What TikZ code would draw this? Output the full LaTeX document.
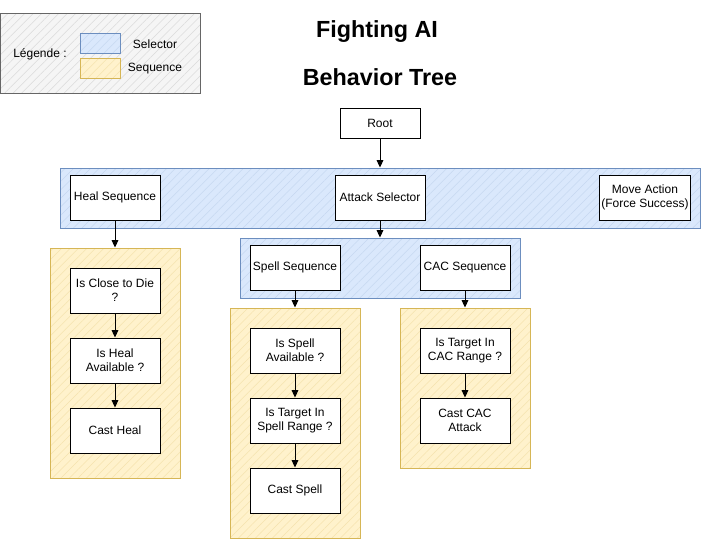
\documentclass[tikz,border=0pt]{standalone}
\usepackage{fontspec}
\setmainfont{Liberation Sans}
\usetikzlibrary{patterns.meta,arrows.meta}
\definecolor{selfill}{HTML}{DAE8FC}
\definecolor{seldraw}{HTML}{6C8EBF}
\definecolor{seqfill}{HTML}{FFF2CC}
\definecolor{seqdraw}{HTML}{D6B656}
\definecolor{legfill}{HTML}{F5F5F5}
\definecolor{legdraw}{HTML}{666666}
\begin{document}
\begin{tikzpicture}[x=0.75pt,y=-0.75pt,
  every node/.style={font=\fontsize{9}{10.5}\selectfont},
  hatchbox/.style n args={3}{draw=#2, line width=0.75pt, preaction={fill=#1},
     pattern={Lines[angle=45,distance=4.5pt,line width=0.4pt]}, pattern color=#3,
     inner sep=0pt},
  container/.style n args={5}{hatchbox={#1}{#2}{#3}, minimum width=#4*0.75pt, minimum height=#5*0.75pt},
  selbox/.style 2 args={container={selfill}{seldraw}{seldraw!18!selfill}{#1}{#2}},
  seqbox/.style 2 args={container={seqfill}{seqdraw}{seqdraw!25!seqfill}{#1}{#2}},
  legbox/.style 2 args={container={legfill}{legdraw}{legdraw!18!legfill}{#1}{#2}},
  box/.style={draw=black, line width=0.75pt, fill=white, align=center, inner sep=1pt,
     minimum width=67.5pt, minimum height=33.75pt},
  arr/.style={-{Triangle[length=5.5pt,width=5pt]}, line width=0.75pt},
  title/.style={font=\fontsize{17.5}{21}\bfseries\selectfont}
]
\useasboundingbox (0,0) rectangle (701,539);
% legend
\node[legbox={200}{80}] (legend) at (100,53) {};
\node (legtxt) at (40,54) {Légende :};
\node[selbox={40}{20}] (legsel) at (100,43) {};
\node[seqbox={40}{20}] (legseq) at (100,68) {};
\node (legseltxt) at (155,44) {Selector};
\node (legseqtxt) at (155,69) {Sequence};
% titles
\node[title] (t1) at (377,32) {Fighting AI};
\node[title] (t2) at (380,77) {Behavior Tree};
% containers
\node[selbox={640}{60}] (bigsel) at (380,198) {};
\node[selbox={280}{60}] (subsel) at (380,268) {};
\node[seqbox={130}{230}] (healc) at (115,363) {};
\node[seqbox={130}{230}] (spellc) at (295,423) {};
\node[seqbox={130}{160}] (cacc) at (465,388) {};
% nodes
\node[box, minimum width=60pt, minimum height=22.5pt] (root) at (380,123) {Root};
\node[box] (heal) at (115,197.5) {Heal Sequence};
\node[box] (attack) at (380,197.5) {Attack Selector};
\node[box] (move) at (645,197.5) {Move Action\\(Force Success)};
\node[box] (spell) at (295,267.5) {Spell Sequence};
\node[box] (cac) at (465,267.5) {CAC Sequence};
\node[box] (close) at (115,290.5) {Is Close to Die\\?};
\node[box] (healav) at (115,360.5) {Is Heal\\Available ?};
\node[box] (casth) at (115,430.5) {Cast Heal};
\node[box] (spellav) at (295,350.5) {Is Spell\\Available ?};
\node[box] (spellr) at (295,420.5) {Is Target In\\Spell Range ?};
\node[box] (casts) at (295,490.5) {Cast Spell};
\node[box] (cacr) at (465,350.5) {Is Target In\\CAC Range ?};
\node[box] (castc) at (465,420.5) {Cast CAC\\Attack};
% arrows
\draw[arr] (root.south) -- (bigsel.north);
\draw[arr] (heal.south) -- (healc.north);
\draw[arr] (attack.south) -- (subsel.north);
\draw[arr] (spell.south) -- (spellc.north);
\draw[arr] (cac.south) -- (cacc.north);
\draw[arr] (close) -- (healav);
\draw[arr] (healav) -- (casth);
\draw[arr] (spellav) -- (spellr);
\draw[arr] (spellr) -- (casts);
\draw[arr] (cacr) -- (castc);
\end{tikzpicture}
\end{document}
